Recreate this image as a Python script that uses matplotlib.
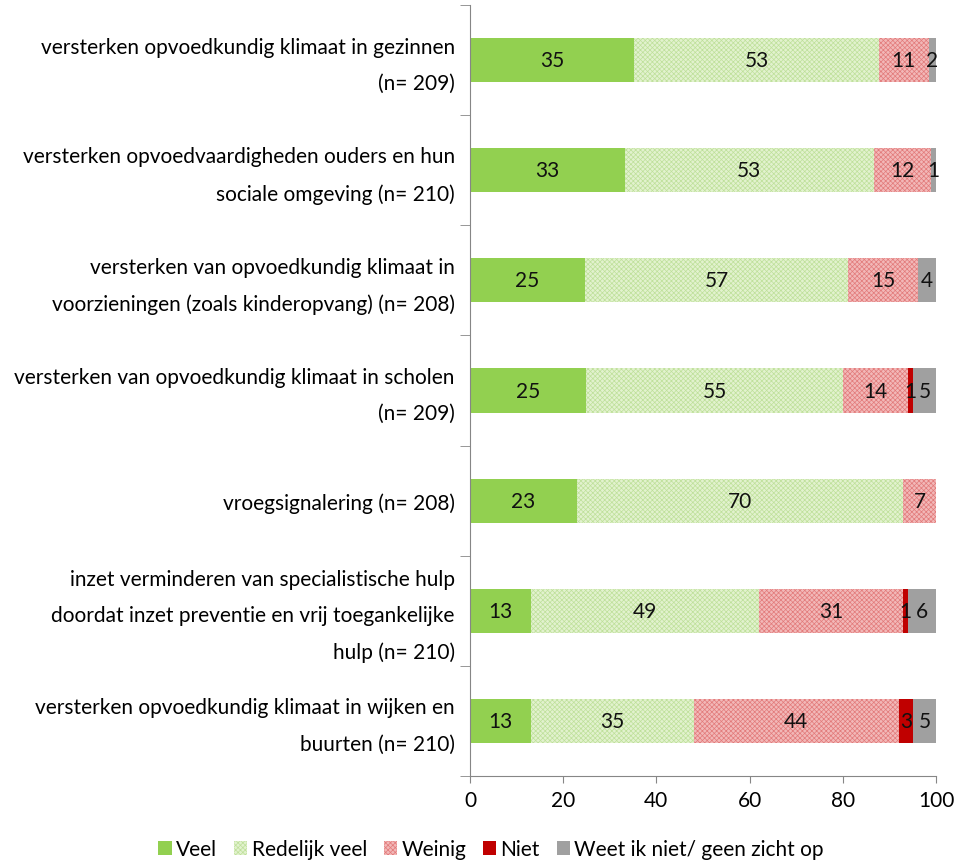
import matplotlib.pyplot as plt
import matplotlib.transforms as mtransforms
import numpy as np
from matplotlib.patches import Patch

plt.rcParams['font.family'] = ['Lato', 'DejaVu Sans']
plt.rcParams['hatch.linewidth'] = 0.5

categories = [
    'versterken opvoedkundig klimaat in gezinnen\n(n= 209)',
    'versterken opvoedvaardigheden ouders en hun\nsociale omgeving (n= 210)',
    'versterken van opvoedkundig klimaat in\nvoorzieningen (zoals kinderopvang) (n= 208)',
    'versterken van opvoedkundig klimaat in scholen\n(n= 209)',
    'vroegsignalering (n= 208)',
    'inzet verminderen van specialistische hulp\ndoordat inzet preventie en vrij toegankelijke\nhulp (n= 210)',
    'versterken opvoedkundig klimaat in wijken en\nbuurten (n= 210)',
]

veel = [35.2, 33.3, 24.6, 25, 23, 13, 13]
redelijk = [52.6, 53.3, 56.6, 55, 70, 49, 35]
weinig = [10.6, 12.4, 15.0, 14, 7, 31, 44]
niet = [0, 0, 0, 1, 0, 1, 3]
weet_niet = [1.6, 1.0, 3.8, 5, 0, 6, 5]

series = [
    ('Veel', veel, dict(color='#92D050')),
    ('Redelijk veel', redelijk, dict(facecolor='#E2F2CE', edgecolor='#BEE09A', hatch='xxxxxxx')),
    ('Weinig', weinig, dict(facecolor='#F2B8B8', edgecolor='#E27A7A', hatch='xxxxxxx')),
    ('Niet', niet, dict(color='#C00000')),
    ('Weet ik niet/ geen zicht op', weet_niet, dict(color='#A0A0A0')),
]

fig = plt.figure(figsize=(9.63, 8.62), dpi=100)
ax = fig.add_axes([0.488, 0.0986, 0.484, 0.8944])

y = np.arange(len(categories))
left = np.zeros(len(categories))
handles = []
for name, vals, style in series:
    vals = np.array(vals, dtype=float)
    bars = ax.barh(y, vals, left=left, height=0.4, linewidth=0, **style)
    labels = [f'{v:.0f}' if v > 0 else '' for v in vals]
    ax.bar_label(bars, labels=labels, label_type='center', fontsize=15, color='#111111')
    left += vals
    handles.append(Patch(linewidth=0, label=name, **style))

ax.set_ylim(len(categories) - 0.5, -0.5)
ax.set_xlim(0, 100)
ax.set_xticks(range(0, 101, 20))
ax.set_yticks(y)
ax.set_yticklabels(categories, fontsize=15, linespacing=2.0)
ax.set_yticks(np.arange(-0.5, len(categories)), minor=True)
ax.tick_params(axis='y', which='major', length=0, pad=11)
ax.tick_params(axis='y', which='minor', length=7, color='#868686', direction='out')
ax.tick_params(axis='x', length=5, color='#868686', labelsize=15, pad=5)

# multi-line labels sit a bit low, nudge them up
shift = mtransforms.ScaledTranslation(0, 4 / 72, fig.dpi_scale_trans)
for lbl in ax.get_yticklabels():
    if '\n' in lbl.get_text():
        lbl.set_transform(lbl.get_transform() + shift)

for s in ['top', 'right']:
    ax.spines[s].set_visible(False)
for s in ['left', 'bottom']:
    ax.spines[s].set_color('#868686')

fig.legend(handles=handles, loc='lower center', bbox_to_anchor=(0.51, -0.02), ncol=5,
           frameon=False, fontsize=15, handlelength=0.65, handleheight=0.65,
           handletextpad=0.2, columnspacing=0.8)

fig.savefig('out.png', dpi=100)
